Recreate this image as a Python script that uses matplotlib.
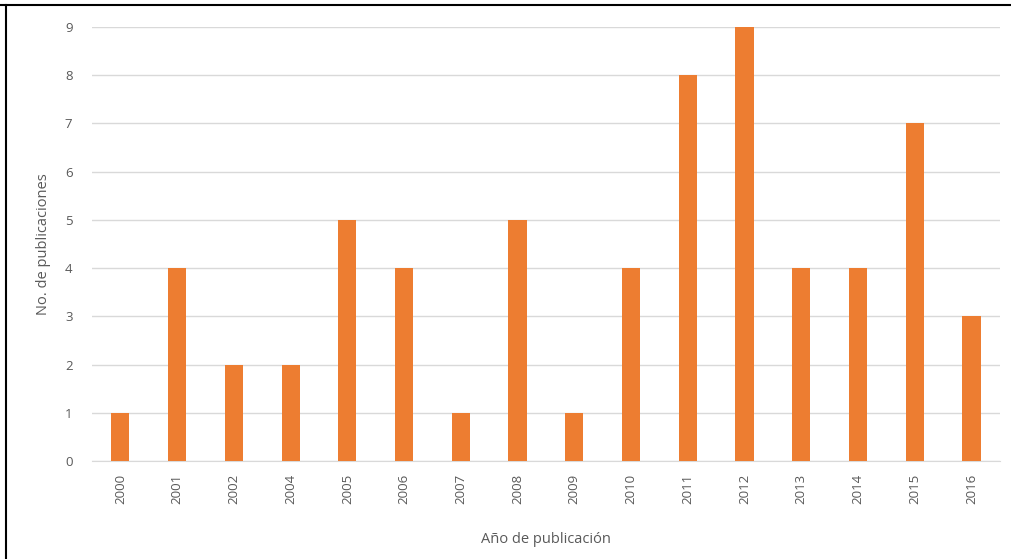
import matplotlib.pyplot as plt
from matplotlib.lines import Line2D

# publicaciones por año
years = ['2000', '2001', '2002', '2004', '2005', '2006', '2007', '2008',
         '2009', '2010', '2011', '2012', '2013', '2014', '2015', '2016']
counts = [1, 4, 2, 2, 5, 4, 1, 5, 1, 4, 8, 9, 4, 4, 7, 3]

plt.rcParams['font.family'] = ['Open Sans', 'DejaVu Sans']
grey = '#595959'

fig = plt.figure(figsize=(10.11, 5.59), dpi=100)
ax = fig.add_axes([0.091, 0.175, 0.898, 0.777])

x = range(len(years))
ax.bar(x, counts, width=0.32, color='#ED7D31', zorder=3)
ax.set_xlim(-0.5, len(years) - 0.5)
ax.set_ylim(0, 9)
ax.set_yticks(range(0, 10))
ax.set_xticks(list(x))
ax.set_xticklabels(years, rotation=90)
ax.yaxis.grid(True, color='#D9D9D9', linewidth=1, zorder=0)
for s in ['top', 'right', 'left']:
    ax.spines[s].set_visible(False)
ax.spines['bottom'].set_color('#D9D9D9')
ax.tick_params(axis='both', length=0, colors=grey, labelsize=9.5)
ax.tick_params(axis='x', pad=9)
ax.tick_params(axis='y', pad=14)
ax.set_ylabel('No. de publicaciones', color=grey, fontsize=10.5, labelpad=10)
ax.set_xlabel('Año de publicación', color=grey, fontsize=10.5, labelpad=20)

# marco negro de la imagen
fig.add_artist(Line2D([0, 1], [1 - 5 / 559, 1 - 5 / 559], color='black', linewidth=1.5))
fig.add_artist(Line2D([6 / 1011, 6 / 1011], [0, 1 - 5 / 559], color='black', linewidth=1.5))

fig.savefig('out.png', dpi=100)
